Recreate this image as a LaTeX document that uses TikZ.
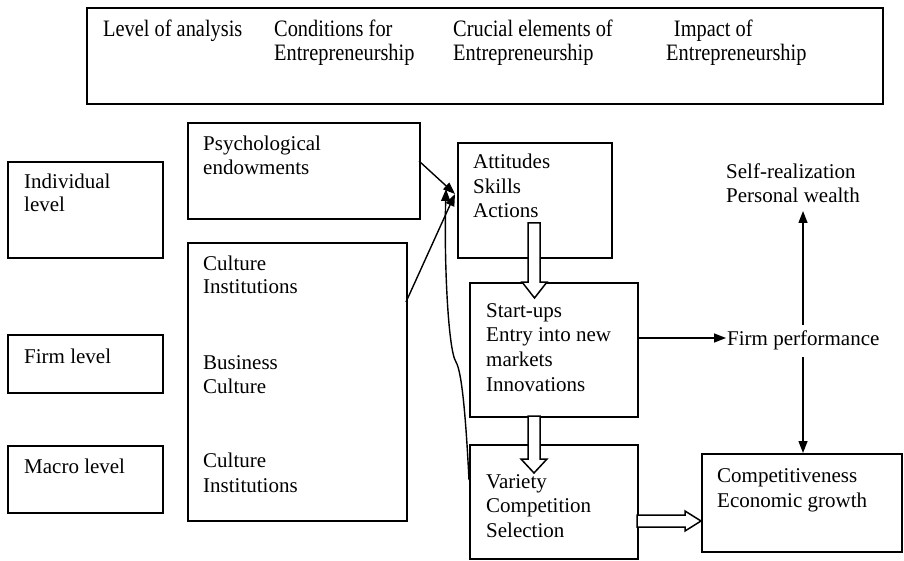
\documentclass[tikz,border=0pt]{standalone}
\usepackage{graphicx}
\usepackage{fontspec}
\setmainfont{Liberation Serif}
\usetikzlibrary{arrows.meta}
\newcommand\mlines[2][24pt]{\vtop{\baselineskip=#1\lineskiplimit=-20pt\lineskip=0pt\halign{##\hfil\cr#2\crcr}}}
\newcommand\hdr[1]{\scalebox{0.97}[1.12]{\mlines[21pt]{#1}}}
\begin{document}
\begin{tikzpicture}[x=1pt,y=-1pt,
  box/.style={draw, line width=1.7pt, anchor=north west, inner sep=0pt},
  txt/.style={anchor=base west, inner sep=0pt, font=\fontsize{21}{24}\selectfont},
  arr/.style={-{Triangle[length=12pt,width=9pt]}, line width=1.4pt},
  hollow/.style={draw, fill=white, line width=1.5pt, line join=miter}]
\useasboundingbox (0,0) rectangle (904,561);

% boxes
\node[box, minimum width=796pt, minimum height=96pt] (header) at (86,7) {};
\node[box, minimum width=155pt, minimum height=96pt] (ind) at (7,161) {};
\node[box, minimum width=155pt, minimum height=58pt] (firm) at (7,334) {};
\node[box, minimum width=155pt, minimum height=67pt] (macro) at (7,445) {};
\node[box, minimum width=232pt, minimum height=96pt] (psy) at (187,122) {};
\node[box, minimum width=219pt, minimum height=278pt] (cult) at (187,242) {};
\node[box, minimum width=154pt, minimum height=115pt] (att) at (457,142) {};
\node[box, minimum width=168pt, minimum height=134pt] (start) at (469,282) {};
\node[box, minimum width=168pt, minimum height=114pt] (var) at (469,444) {};
\node[box, minimum width=200pt, minimum height=98pt] (comp) at (701,453) {};

% header texts
\node[txt] (h1) at (103,37) {\hdr{Level of analysis}};
\node[txt] (h2) at (274,37) {\hdr{Conditions for\cr Entrepreneurship}};
\node[txt] (h3) at (453,37) {\hdr{Crucial elements of\cr Entrepreneurship}};
\node[txt] (h4) at (666,37) {\hdr{\hskip8pt Impact of\cr Entrepreneurship}};

% texts
\node[txt] (tind) at (24,189) {\mlines[23pt]{Individual\cr level}};
\node[txt] (tfirm) at (24,363) {Firm level};
\node[txt] (tmacro) at (24,473) {Macro level};
\node[txt] (tpsy) at (203,151) {\mlines{Psychological\cr endowments}};
\node[txt] (tc1) at (203,270) {\mlines[23pt]{Culture\cr Institutions}};
\node[txt] (tc2) at (203,369) {\mlines{Business\cr Culture}};
\node[txt] (tc3) at (203,467) {\mlines[25pt]{Culture\cr Institutions}};
\node[txt] (tatt) at (473,169) {\mlines[24.5pt]{Attitudes\cr Skills\cr Actions}};
\node[txt] (tstart) at (486,317) {\mlines[24.7pt]{Start-ups\cr Entry into new\cr markets\cr Innovations}};
\node[txt] (tvar) at (486,488) {\mlines[24.5pt]{Variety\cr Competition\cr Selection}};
\node[txt] (self) at (726,179) {\mlines{Self-realization\cr Personal wealth}};
\node[txt] (fp) at (727,345) {Firm performance};
\node[txt] (tcomp) at (717,482) {\mlines[25pt]{Competitiveness\cr Economic growth}};

% connector points
\coordinate (attIn) at (455,194);
\coordinate (psyOut) at (419,161);
\coordinate (cultOut) at (406,302);
\coordinate (curveStart) at (469,480);
\coordinate (startOut) at (637,338);
\coordinate (fpIn) at (726,338);
\coordinate (fpUp) at (803,325);
\coordinate (selfIn) at (803,211);
\coordinate (fpDown) at (803,357);
\coordinate (compIn) at (803,453);

% connectors
\draw[arr] (psyOut) -- (attIn);
\draw[arr] (cultOut) -- (attIn);
\draw[arr] (curveStart) .. controls (466,420) and (462,372) .. (456,362)
  .. controls (448,350) and (444,260) .. (446,189);
\draw[arr] (startOut) -- (fpIn);
\draw[arr] (fpUp) -- (selfIn);
\draw[arr] (fpDown) -- (compIn);

% hollow arrows
\draw[hollow] (528,223) -- (528,282) -- (522,282) -- (534.5,298) -- (547,282) -- (540,282) -- (540,223) -- cycle;
\draw[hollow] (528,416) -- (528,459) -- (521,459) -- (534,473) -- (547,459) -- (540,459) -- (540,416) -- cycle;
\draw[hollow] (637,515) -- (685,515) -- (685,511) -- (701,521) -- (685,531) -- (685,527) -- (637,527) -- cycle;
\end{tikzpicture}
\end{document}
